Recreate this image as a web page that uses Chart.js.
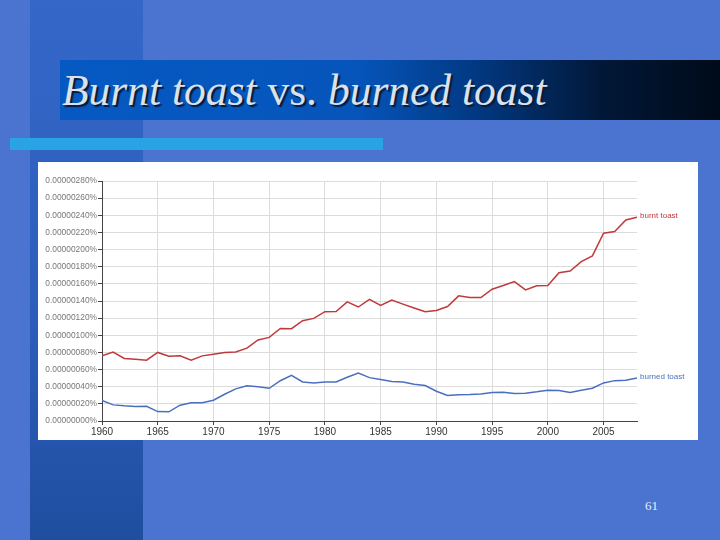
<!DOCTYPE html>
<html>
<head>
<meta charset="utf-8">
<script src="https://cdn.jsdelivr.net/npm/chart.js@4.4.1/dist/chart.umd.min.js"></script>
<style>
  html, body { margin:0; padding:0; }
  body { width:720px; height:540px; position:relative; overflow:hidden; background:#4a74cf; font-family:"Liberation Sans", Arial, sans-serif; }
  .col { position:absolute; left:30px; top:0; width:113px; height:540px; background:linear-gradient(to bottom, #3467c8 0%, #2c5dbb 60%, #1f4e9f 100%); }
  .titlebar { position:absolute; left:60px; top:60px; width:660px; height:60px;
    background:linear-gradient(to right, #0659c2 0%, #0555bb 45%, #023a85 62%, #011838 82%, #000a18 100%); }
  .title { position:absolute; left:62px; top:65px; font-family:"Liberation Serif","Times New Roman",serif; font-style:italic; font-size:43.5px; color:#dbe2ec; text-shadow:2px 2px 1px #0a1a3a; white-space:nowrap; }
  .title span { font-style:normal; }
  .bluebar { position:absolute; left:10px; top:138px; width:373px; height:12px; background:#2aa2e6; }
  .box { position:absolute; left:38px; top:162px; width:660px; height:278px; background:#fff; }
  .pagenum { position:absolute; left:645px; top:498px; font-family:"Liberation Serif",serif; font-size:13px; color:#e8eef8; }
</style>
</head>
<body>
<div class="col"></div>
<div class="titlebar"></div>
<div class="title">Burnt toast <span>vs.</span> burned toast</div>
<div class="bluebar"></div>
<div class="box"><canvas id="c" width="660" height="278"></canvas></div>
<div class="pagenum">61</div>
<script>
const years = [1960,1961,1962,1963,1964,1965,1966,1967,1968,1969,1970,1971,1972,1973,1974,1975,1976,1977,1978,1979,1980,1981,1982,1983,1984,1985,1986,1987,1988,1989,1990,1991,1992,1993,1994,1995,1996,1997,1998,1999,2000,2001,2002,2003,2004,2005,2006,2007,2008];
const burntToast = [0.00000076,0.000000805,0.00000073,0.00000072,0.00000071,0.0000008,0.000000755,0.00000076,0.00000071,0.00000076,0.00000078,0.0000008,0.000000805,0.00000085,0.000000945,0.000000975,0.00000108,0.000001077,0.00000117,0.000001197,0.000001275,0.000001278,0.00000139,0.00000133,0.000001418,0.000001348,0.00000141,0.000001364,0.000001318,0.000001275,0.00000129,0.000001336,0.00000146,0.00000144,0.00000144,0.000001538,0.00000158,0.000001627,0.00000153,0.000001577,0.00000158,0.00000173,0.00000175,0.00000186,0.000001926,0.00000219,0.00000221,0.000002345,0.000002377];
const burnedToast = [0.000000239,0.000000188,0.000000177,0.000000169,0.000000172,0.00000011,0.000000107,0.000000184,0.000000212,0.000000212,0.000000242,0.000000312,0.000000375,0.00000041,0.0000004,0.000000382,0.00000047,0.000000533,0.000000456,0.000000444,0.000000456,0.000000456,0.00000051,0.00000056,0.000000506,0.000000483,0.00000046,0.000000456,0.000000428,0.000000413,0.000000347,0.000000297,0.000000305,0.000000308,0.000000316,0.000000332,0.000000335,0.00000032,0.000000324,0.00000034,0.000000359,0.000000355,0.000000332,0.000000359,0.000000382,0.000000444,0.000000471,0.000000475,0.000000503];
const seriesNames = ["burnt toast", "burned toast"];
const seriesColors = ["#c0393b", "#4a6fc0"];
const yTickValues = [0,0.0000002,0.0000004,0.0000006,0.0000008,0.000001,0.0000012,0.0000014,0.0000016,0.0000018,0.000002,0.0000022,0.0000024,0.0000026,0.0000028];
const xTickYears = [1960,1965,1970,1975,1980,1985,1990,1995,2000,2005];

const toPoints = arr => years.map((yr, i) => ({x: yr, y: arr[i]}));

const endLabels = {
  id: 'endLabels',
  afterDatasetsDraw(chart) {
    const ctx = chart.ctx;
    ctx.save();
    ctx.font = '8px "Liberation Sans", Arial, sans-serif';
    ctx.textBaseline = 'middle';
    ctx.textAlign = 'left';
    chart.data.datasets.forEach((ds, i) => {
      const meta = chart.getDatasetMeta(i);
      const last = meta.data[meta.data.length - 1];
      ctx.fillStyle = ds.borderColor;
      ctx.fillText(ds.label, last.x + 3, last.y - 1);
    });
    ctx.restore();
  }
};

new Chart(document.getElementById('c'), {
  type: 'line',
  data: {
    datasets: [
      { label: seriesNames[0], data: toPoints(burntToast), borderColor: seriesColors[0], borderWidth: 1.5, pointRadius: 0, tension: 0, fill: false },
      { label: seriesNames[1], data: toPoints(burnedToast), borderColor: seriesColors[1], borderWidth: 1.5, pointRadius: 0, tension: 0, fill: false }
    ]
  },
  options: {
    responsive: false,
    animation: false,
    events: [],
    layout: { padding: { top: 19, right: 61, left: 0, bottom: 0 } },
    plugins: { legend: { display: false }, tooltip: { enabled: false } },
    scales: {
      x: {
        type: 'linear',
        min: years[0],
        max: years[years.length - 1],
        afterBuildTicks: s => { s.ticks = xTickYears.map(v => ({ value: v })); },
        afterFit: s => { s.height = 19; },
        grid: { color: '#dcdcdc', tickColor: '#444', tickLength: 4, lineWidth: 1 },
        border: { color: '#444', width: 1 },
        ticks: { color: '#333', font: { size: 10, family: '"Liberation Sans", Arial, sans-serif' }, padding: 1, maxRotation: 0, callback: v => String(v) }
      },
      y: {
        type: 'linear',
        min: yTickValues[0],
        max: yTickValues[yTickValues.length - 1],
        afterBuildTicks: s => { s.ticks = yTickValues.map(v => ({ value: v })); },
        afterFit: s => { s.width = 64; },
        grid: { color: '#dcdcdc', tickColor: '#444', tickLength: 4, lineWidth: 1 },
        border: { color: '#444', width: 1 },
        ticks: { color: '#777', font: { size: 8.4, family: '"Liberation Sans", Arial, sans-serif' }, padding: 1, callback: v => Number(v).toFixed(8) + '%' }
      }
    }
  },
  plugins: [endLabels]
});
</script>
</body>
</html>
